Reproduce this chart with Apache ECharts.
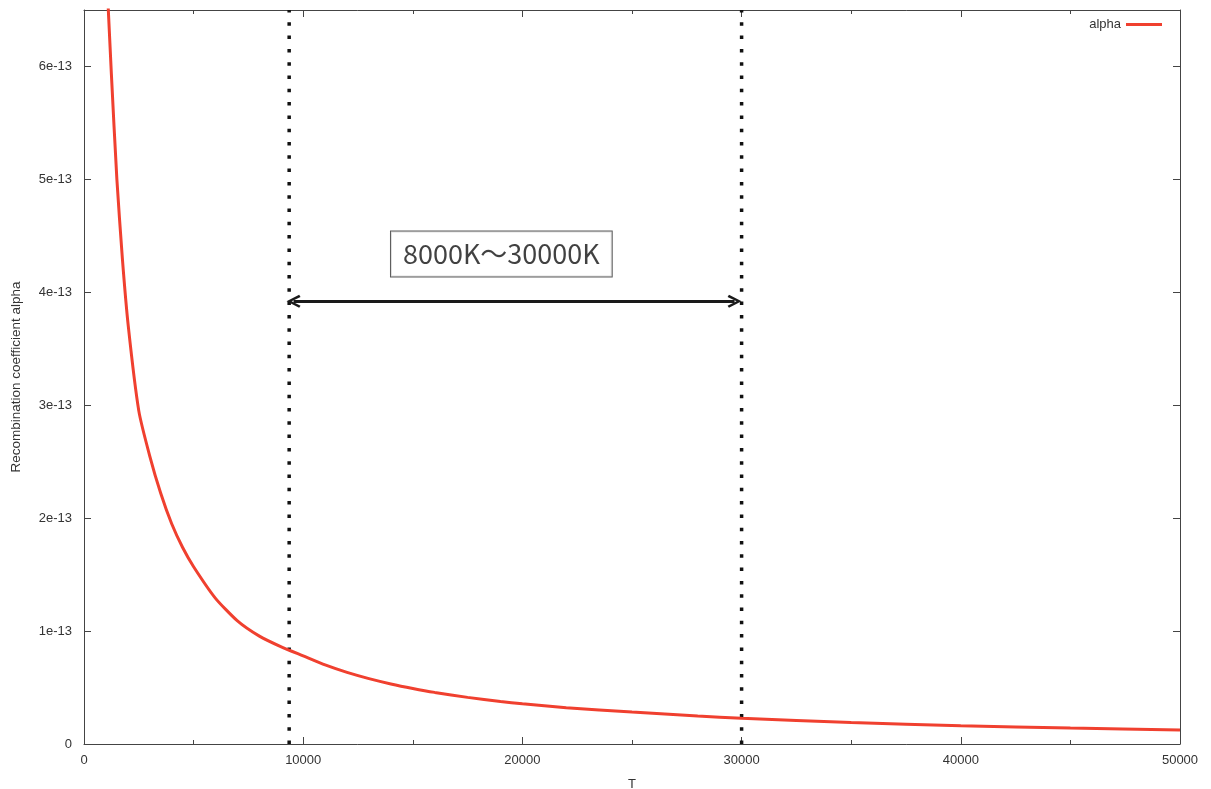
<!DOCTYPE html>
<html>
<head>
<meta charset="utf-8">
<script src="https://cdn.jsdelivr.net/npm/echarts@6/dist/echarts.min.js"></script>
<style>html,body{margin:0;padding:0;background:#fff}#c{width:1211px;height:789px}</style>
</head>
<body>
<div id="c"></div>
<script>
// Temperature samples (K)
const T = [1000, 1250, 1500, 1750, 2020, 2500, 3000, 3500, 4000, 4500, 5000, 6000, 7000, 8000, 9000, 10000, 11000, 12000, 13000, 14000, 15000, 16000, 17500, 19000, 20000, 22000, 25000, 28000, 30000, 35000, 40000, 45000, 50000];
// Recombination coefficient alpha, in units of 1e-13
const alphaE13 = [6.95, 5.93, 5.0, 4.3, 3.70, 2.95, 2.55, 2.22, 1.95, 1.74, 1.57, 1.29, 1.09, 0.955, 0.86, 0.78, 0.70, 0.634, 0.579, 0.532, 0.492, 0.457, 0.413, 0.376, 0.356, 0.322, 0.283, 0.248, 0.228, 0.19, 0.162, 0.141, 0.124];
// Annotation: range markers
const rangeLow = 9360;
const rangeHigh = 30000;
const arrowLevel = 3.92e-13;
const rangeLabel = '8000K～30000K';
const labelPos = [19040, 4.34e-13];
const xTicks = {min: 0, max: 50000, interval: 10000};
const yTicks = {min: 0, max: 6.5e-13, interval: 1e-13};

const alphaData = T.map((t, i) => [t, alphaE13[i] * 1e-13]);

const axisColor = '#444';
const textColor = '#333';
const font = '"Liberation Sans", Arial, Helvetica, sans-serif';

function yFmt(v) {
  const k = v / 1e-13;
  const r = Math.round(k);
  if (Math.abs(k - r) > 1e-6) return '';
  return r === 0 ? '0' : r + 'e-13';
}

const baseAxis = {
  type: 'value',
  axisLine: {show: true, onZero: false, lineStyle: {color: axisColor, width: 1}},
  axisTick: {show: true, inside: true, length: 7, lineStyle: {color: axisColor}},
  splitLine: {show: false}
};

const chart = echarts.init(document.getElementById('c'));
chart.setOption({
  animation: false,
  backgroundColor: '#fff',
  textStyle: {fontFamily: font},
  grid: {left: 84, right: 31, top: 10, bottom: 45, containLabel: false, outerBoundsMode: 'none'},
  legend: {
    data: ['alpha'],
    right: 44, top: 13,
    align: 'right',
    icon: 'rect',
    itemWidth: 36, itemHeight: 3,
    textStyle: {fontSize: 13, color: textColor, fontFamily: font}
  },
  xAxis: [Object.assign({}, baseAxis, {
    min: xTicks.min, max: xTicks.max, interval: xTicks.interval,
    name: 'T', nameLocation: 'middle', nameGap: 34,
    nameTextStyle: {fontSize: 13, color: textColor},
    minorTick: {show: true, splitNumber: 2, length: 4, lineStyle: {color: axisColor}},
    axisLabel: {fontSize: 13, color: textColor, margin: 10, formatter: v => String(v)}
  }), Object.assign({}, baseAxis, {
    position: 'top', min: xTicks.min, max: xTicks.max, interval: xTicks.interval,
    minorTick: {show: true, splitNumber: 2, length: 4, lineStyle: {color: axisColor}},
    axisLabel: {show: false}
  })],
  yAxis: [Object.assign({}, baseAxis, {
    min: yTicks.min, max: yTicks.max, interval: yTicks.interval,
    name: 'Recombination coefficient alpha', nameLocation: 'middle', nameGap: 61,
    nameTextStyle: {fontSize: 13.5, color: textColor},
    axisLabel: {fontSize: 13, color: textColor, margin: 12, formatter: yFmt}
  }), Object.assign({}, baseAxis, {
    position: 'right', min: yTicks.min, max: yTicks.max, interval: yTicks.interval,
    axisLabel: {show: false}
  })],
  series: [
    {
      name: 'range-low', type: 'line', silent: true, symbol: 'none',
      data: [[rangeLow, yTicks.min], [rangeLow, yTicks.max]],
      lineStyle: {color: '#111', width: 3.5, type: [3.5, 9.8], cap: 'butt'},
      z: 3
    },
    {
      name: 'range-high', type: 'line', silent: true, symbol: 'none',
      data: [[rangeHigh, yTicks.min], [rangeHigh, yTicks.max]],
      lineStyle: {color: '#111', width: 3.5, type: [3.5, 9.8], cap: 'butt'},
      z: 3
    },
    {
      name: 'alpha', type: 'line', symbol: 'none', smooth: 0.2, clip: true,
      data: alphaData,
      color: '#f0402f',
      lineStyle: {color: '#f0402f', width: 3},
      z: 5
    },
    {
      name: 'arrow', type: 'line', silent: true, symbol: 'none', data: [],
      markLine: {
        silent: true,
        symbol: ['path://M5,0 L10,9 L8.4,10 L5,3.6 L1.6,10 L0,9 Z', 'path://M5,0 L10,9 L8.4,10 L5,3.6 L1.6,10 L0,9 Z'],
        symbolSize: [13, 14],
        label: {show: false},
        lineStyle: {color: '#1a1a1a', width: 3, type: 'solid'},
        data: [[{coord: [rangeLow + 200, arrowLevel]}, {coord: [rangeHigh - 320, arrowLevel]}]]
      },
      z: 6
    },
    {
      name: 'label', type: 'scatter', silent: true, symbolSize: 0,
      data: [labelPos],
      label: {
        show: true, position: 'inside',
        formatter: rangeLabel,
        fontFamily: '"Noto Sans CJK JP", "Noto Sans", sans-serif',
        fontSize: 27, color: '#111',
        backgroundColor: '#fff',
        borderColor: '#333', borderWidth: 1,
        padding: [9, 12, 9, 12]
      },
      z: 7
    }
  ]
});
</script>
</body>
</html>
